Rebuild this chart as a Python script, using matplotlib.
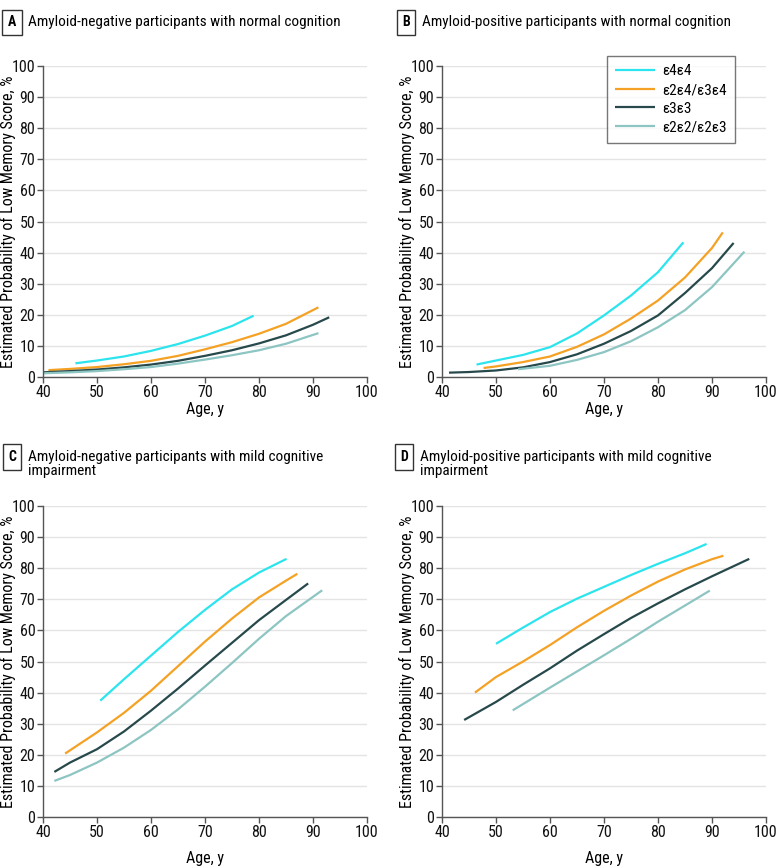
import matplotlib.pyplot as plt
from matplotlib import font_manager as fm

# pick a narrow sans (regular weight) if one is installed
voci = fm.fontManager.ttflist


def regolare(f):
    return f.weight in (400, "normal", "regular", "book", "Regular", "Book") and f.style == "normal"


scelta = None
for nome in ['Liberation Sans Narrow', 'DejaVu Sans Condensed', 'Noto Sans SemiCondensed',
             'Noto Sans Condensed', 'Open Sans SemiCondensed', 'Open Sans Condensed',
             'Roboto Condensed']:
    if any(f.name == nome and regolare(f) for f in voci):
        scelta = (nome, 'normal')
        break
if scelta is None:
    for f in voci:
        if f.name in ('Noto Sans', 'DejaVu Sans', 'Open Sans') and regolare(f) \
                and f.stretch in ('semi-condensed', 'condensed'):
            scelta = (f.name, f.stretch)
            break
if scelta is None:
    scelta = ('Lato', 'normal')

plt.rcParams['font.family'] = [scelta[0], 'DejaVu Sans']
plt.rcParams['font.stretch'] = scelta[1]

# genotype groups
gruppi = ["ε4ε4", "ε2ε4/ε3ε4", "ε3ε3", "ε2ε2/ε2ε3"]
colori = ["#2ce4ee", "#f4a124", "#27494b", "#8cc5c2"]

# panel A: amyloid-negative, normal cognition
a_eta = [
    [46, 50, 55, 60, 65, 70, 75, 79],
    [41, 45, 50, 55, 60, 65, 70, 75, 80, 85, 91],
    [40, 45, 50, 55, 60, 65, 70, 75, 80, 85, 90, 93],
    [40, 45, 50, 55, 60, 65, 70, 75, 80, 85, 91],
]
a_prob = [
    [4.4, 5.3, 6.6, 8.4, 10.6, 13.3, 16.4, 19.7],
    [2.2, 2.6, 3.2, 4.1, 5.2, 6.8, 8.9, 11.2, 13.9, 17.1, 22.4],
    [1.5, 1.9, 2.4, 3.1, 4.0, 5.2, 6.8, 8.6, 10.8, 13.4, 16.8, 19.2],
    [1.2, 1.5, 1.9, 2.5, 3.2, 4.3, 5.6, 7.0, 8.6, 10.7, 14.1],
]

# panel B: amyloid-positive, normal cognition
b_eta = [
    [46.4, 50, 55, 60, 65, 70, 75, 80, 84.7],
    [47.7, 50, 55, 60, 65, 70, 75, 80, 85, 90, 92],
    [41.3, 45, 50, 55, 60, 65, 70, 75, 80, 85, 90, 94],
    [54.1, 60, 65, 70, 75, 80, 85, 90, 96],
]
b_prob = [
    [4.0, 5.3, 7.1, 9.6, 14.0, 19.8, 26.2, 33.7, 43.3],
    [2.9, 3.4, 4.8, 6.6, 9.7, 13.7, 18.8, 24.6, 32.0, 41.5, 46.5],
    [1.4, 1.6, 2.1, 3.1, 4.8, 7.3, 10.7, 14.8, 19.8, 27.0, 35.0, 43.1],
    [2.5, 3.6, 5.5, 8.0, 11.5, 16.0, 21.5, 28.9, 40.3],
]

# panel C: amyloid-negative, MCI
c_eta = [
    [50.6, 55, 60, 65, 70, 75, 80, 85.1],
    [44.1, 50, 55, 60, 65, 70, 75, 80, 85, 87.1],
    [42.1, 45, 50, 55, 60, 65, 70, 75, 80, 85, 89.1],
    [42.1, 45, 50, 55, 60, 65, 70, 75, 80, 85, 91.7],
]
c_prob = [
    [37.4, 44.3, 51.9, 59.5, 66.6, 73.2, 78.6, 83.0],
    [20.4, 27.2, 33.5, 40.6, 48.5, 56.4, 63.8, 70.6, 76.0, 78.2],
    [14.5, 17.5, 21.8, 27.5, 34.2, 41.3, 48.7, 56.0, 63.3, 69.8, 75.1],
    [11.6, 13.5, 17.5, 22.3, 28.0, 34.6, 41.9, 49.5, 57.3, 64.6, 72.9],
]

# panel D: amyloid-positive, MCI
d_eta = [
    [50, 55, 60, 65, 70, 75, 80, 85, 89],
    [46.1, 50, 55, 60, 65, 70, 75, 80, 85, 90, 92.1],
    [44.1, 50, 55, 60, 65, 70, 75, 80, 85, 90, 96.9],
    [53.1, 60, 65, 70, 75, 80, 85, 89.6],
]
d_prob = [
    [55.7, 60.9, 65.9, 70.2, 74.0, 77.8, 81.4, 84.8, 87.8],
    [40.0, 45.0, 50.0, 55.3, 61.0, 66.3, 71.2, 75.7, 79.6, 82.9, 84.0],
    [31.2, 37.0, 42.5, 47.8, 53.5, 58.8, 64.0, 68.7, 73.2, 77.4, 83.0],
    [34.3, 41.6, 46.8, 52.0, 57.3, 62.8, 68.0, 72.8],
]

pannelli = [
    ("A", "Amyloid-negative participants with normal cognition", a_eta, a_prob),
    ("B", "Amyloid-positive participants with normal cognition", b_eta, b_prob),
    ("C", "Amyloid-negative participants with mild cognitive\nimpairment", c_eta, c_prob),
    ("D", "Amyloid-positive participants with mild cognitive\nimpairment", d_eta, d_prob),
]

W, H = 780, 868
fig = plt.figure(figsize=(W / 100, H / 100), dpi=100)

# axes boxes in pixels: left, top (width 324, height 311)
posizioni = [(43, 66), (442, 66), (43, 506), (442, 506)]
# letter box centre in pixels
titoli_pos = [(12, 22.5), (406, 22.5), (12, 457), (404, 457)]
# x label centre below axis, in axes fraction
xlab_y = [-0.106, -0.106, -0.132, -0.132]

for i, (lettera, titolo, eta, prob) in enumerate(pannelli):
    left, top = posizioni[i]
    ax = fig.add_axes([left / W, 1 - (top + 311) / H, 324 / W, 311 / H])
    for j in range(4):
        ax.plot(eta[j], prob[j], color=colori[j], lw=1.6, label=gruppi[j],
                solid_capstyle="butt")
    ax.set_xlim(40, 100)
    ax.set_ylim(0, 100)
    ax.set_xticks(range(40, 101, 10))
    ax.set_yticks(range(0, 101, 10))
    ax.grid(axis="y", color="#e4e4e4", lw=1)
    ax.set_axisbelow(True)
    for s in ["top", "right"]:
        ax.spines[s].set_visible(False)
    for s in ["left", "bottom"]:
        ax.spines[s].set_color("#555555")
        ax.spines[s].set_linewidth(1)
    ax.tick_params(colors="#555555", labelcolor="#111111", labelsize=11.5,
                   length=4, width=1, pad=1.5)
    ax.set_xlabel("Age, y", fontsize=11.5, va="center")
    ax.xaxis.set_label_coords(0.5, xlab_y[i])
    ax.set_ylabel("Estimated Probability of Low Memory Score, %", fontsize=11.5,
                  va="center")
    ax.yaxis.set_label_coords(-0.108, 0.5)
    if lettera == "B":
        leg = ax.legend(loc="upper right", bbox_to_anchor=(0.904, 1.032),
                        borderaxespad=0, fontsize=11, frameon=True, fancybox=False,
                        handlelength=2.6, borderpad=0.55, labelspacing=0.3,
                        handletextpad=0.45)
        leg.get_frame().set_edgecolor("#555555")
        leg.get_frame().set_linewidth(1)

    bx, by = titoli_pos[i]
    fig.text(bx / W, 1 - by / H, lettera, fontsize=10, fontweight="bold",
             ha="center", va="center",
             bbox=dict(boxstyle="square,pad=0.4", fc="white", ec="#333333", lw=1))
    fig.text((bx + 16) / W, 1 - (by - 7.5) / H, titolo, fontsize=11,
             ha="left", va="top", linespacing=1.05)

fig.savefig("out.png", dpi=100)
